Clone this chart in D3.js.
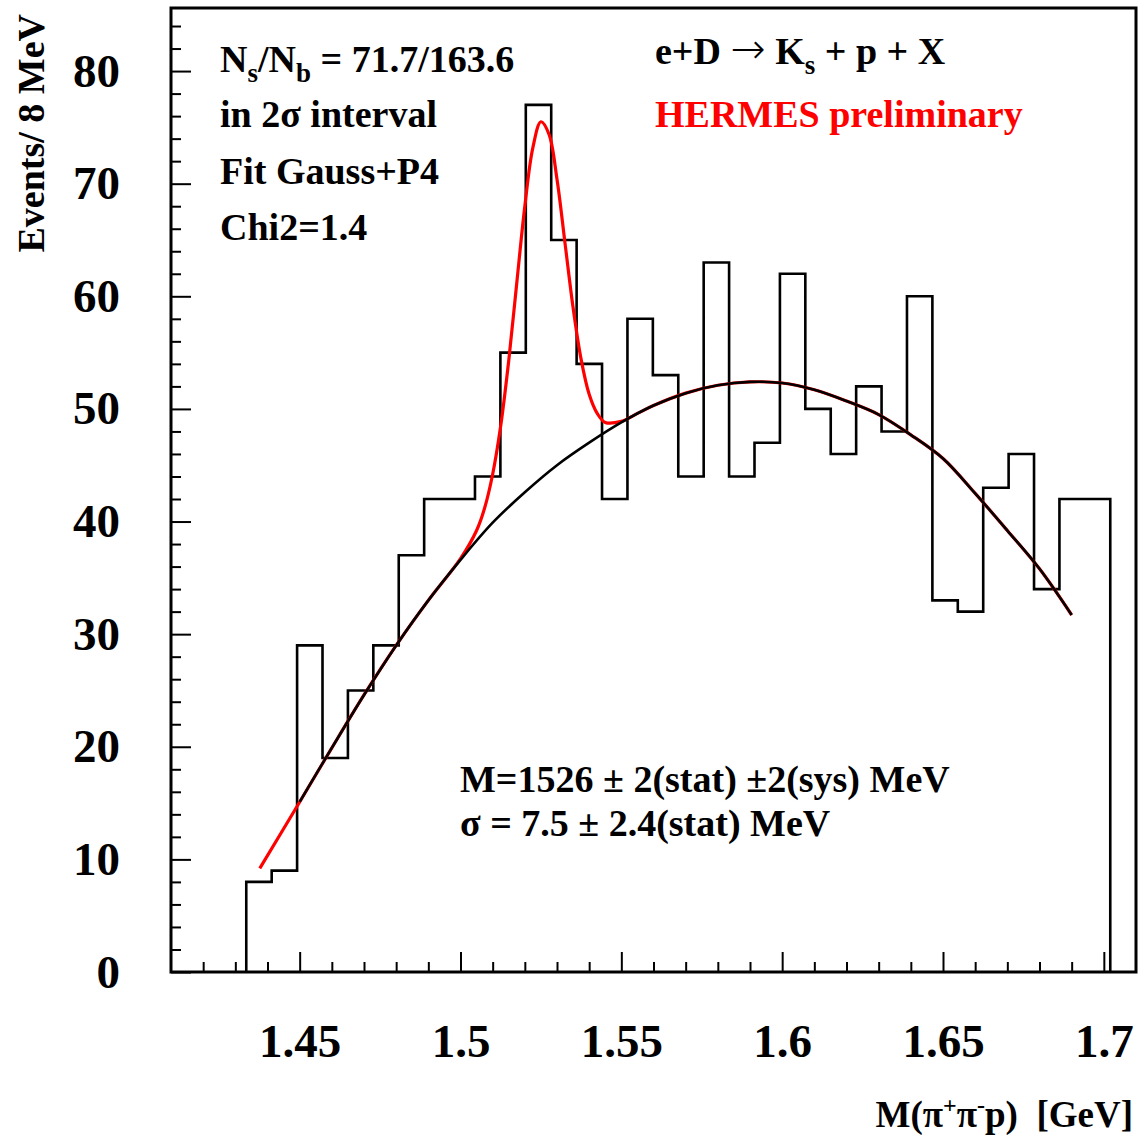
<!DOCTYPE html>
<html>
<head>
<meta charset="utf-8">
<script src="https://cdn.jsdelivr.net/npm/d3@7"></script>
<style>
  html, body { margin: 0; padding: 0; background: #fff; }
  svg text { font-family: "Liberation Serif", "Times New Roman", serif; font-weight: bold; white-space: pre; }
</style>
</head>
<body>
<svg id="chart" width="1144" height="1135"></svg>
<script>
// ---------------- data ----------------
const binStart = 1.4334;     // GeV, lower edge of first bin
const binWidth = 0.0079;     // GeV
const counts = [8, 9, 29, 19, 25, 29, 37, 42, 42, 44, 55, 77, 65, 54, 42, 58, 53, 44,
                63, 44, 47, 62, 50, 46, 52, 48, 60, 33, 32, 43, 46, 34, 42, 42];

// Fit: Gauss + P4 (total, red)
const fitX = [1.4376, 1.45, 1.46, 1.47, 1.48, 1.49, 1.50, 1.505, 1.5075, 1.51, 1.5125, 1.515,
              1.5175, 1.52, 1.5225, 1.525, 1.5275, 1.53, 1.5325, 1.535, 1.5375, 1.54, 1.5425,
              1.545, 1.55, 1.555, 1.56, 1.57, 1.58, 1.59, 1.60, 1.61, 1.62, 1.63, 1.64, 1.65,
              1.66, 1.67, 1.68, 1.69];
const fitY = [9.2, 15.1, 19.9, 24.6, 29.0, 33.0, 36.7, 39.2, 41.2, 44.2, 48.5, 54.3,
              61.2, 68.0, 73.2, 75.5, 74.4, 70.4, 64.7, 59.0, 54.4, 51.3, 49.6,
              48.8, 48.9, 49.6, 50.3, 51.4, 52.1, 52.4, 52.3, 51.7, 50.7, 49.5, 47.7, 45.6,
              42.5, 39.2, 35.8, 31.7];

// Background P4 (black)
const bgX = [1.45, 1.46, 1.47, 1.48, 1.49, 1.50, 1.51, 1.52, 1.53, 1.54, 1.55, 1.56, 1.57,
             1.58, 1.59, 1.60, 1.61, 1.62, 1.63, 1.64, 1.65, 1.66, 1.67, 1.68, 1.69];
const bgY = [15.1, 19.9, 24.6, 29.0, 33.0, 36.6, 39.9, 42.6, 45.0, 47.0, 48.8, 50.3, 51.4,
             52.1, 52.4, 52.3, 51.7, 50.7, 49.5, 47.7, 45.6, 42.5, 39.2, 35.8, 31.7];

const xMajorTicks = [1.45, 1.5, 1.55, 1.6, 1.65, 1.7];
const xTickLabels = ["1.45", "1.5", "1.55", "1.6", "1.65", "1.7"];
const yMajorTicks = [0, 10, 20, 30, 40, 50, 60, 70, 80];
const yTickLabels = ["0", "10", "20", "30", "40", "50", "60", "70", "80"];

// ---------------- layout ----------------
const L = 171, R = 1136, T = 8, B = 972;
const svg = d3.select("#chart");

const x = d3.scaleLinear().domain([1.41, 1.71]).range([L, R]);
const y = d3.scaleLinear().domain([0, 85.6]).range([B, T]);

// minor ticks
const xMinor = d3.range(1.42, 1.705, 0.01).map(v => +v.toFixed(2)).filter(v => !xMajorTicks.some(m => Math.abs(m - v) < 1e-6));
const yMinor = d3.range(2, 85, 2).filter(v => v % 10 !== 0);

// x axis minor
svg.append("g").attr("transform", `translate(0,${B})`)
  .call(d3.axisBottom(x).tickValues(xMinor).tickSize(-10).tickFormat(""))
  .call(g => g.select(".domain").remove())
  .call(g => g.selectAll("line").attr("stroke", "#000").attr("stroke-width", 2));
// x axis major
svg.append("g").attr("transform", `translate(0,${B})`)
  .call(d3.axisBottom(x).tickValues(xMajorTicks).tickSize(-20).tickPadding(52)
        .tickFormat((d, i) => xTickLabels[i]))
  .call(g => g.select(".domain").remove())
  .call(g => g.selectAll("line").attr("stroke", "#000").attr("stroke-width", 2))
  .call(g => g.selectAll("text").attr("font-size", 47).attr("fill", "#000")
        .attr("font-family", "Liberation Serif").attr("font-weight", "bold"));

// y axis minor
svg.append("g").attr("transform", `translate(${L},0)`)
  .call(d3.axisLeft(y).tickValues(yMinor).tickSize(-10).tickFormat(""))
  .call(g => g.select(".domain").remove())
  .call(g => g.selectAll("line").attr("stroke", "#000").attr("stroke-width", 2));
// y axis major
svg.append("g").attr("transform", `translate(${L},0)`)
  .call(d3.axisLeft(y).tickValues(yMajorTicks).tickSize(-20).tickPadding(51)
        .tickFormat((d, i) => yTickLabels[i]))
  .call(g => g.select(".domain").remove())
  .call(g => g.selectAll("line").attr("stroke", "#000").attr("stroke-width", 2))
  .call(g => g.selectAll("text").attr("font-size", 47).attr("fill", "#000")
        .attr("font-family", "Liberation Serif").attr("font-weight", "bold"));

// histogram step path
const edges = counts.map((c, i) => binStart + i * binWidth);
let d = `M${x(edges[0])},${y(0)}`;
counts.forEach((c, i) => {
  d += `L${x(edges[i])},${y(c)}L${x(edges[i] + binWidth)},${y(c)}`;
});
d += `L${x(edges[counts.length - 1] + binWidth)},${y(0)}`;
svg.append("path").attr("d", d).attr("fill", "none").attr("stroke", "#000")
  .attr("stroke-width", 2.6).attr("stroke-linejoin", "miter");

// fit curves
const line = d3.line().x(p => x(p[0])).y(p => y(p[1])).curve(d3.curveCatmullRom.alpha(0.5));
svg.append("path").attr("d", line(fitX.map((v, i) => [v, fitY[i]])))
  .attr("fill", "none").attr("stroke", "#ff0000").attr("stroke-width", 3.2);
svg.append("path").attr("d", line(bgX.map((v, i) => [v, bgY[i]])))
  .attr("fill", "none").attr("stroke", "#000").attr("stroke-width", 2.6);

// frame
svg.append("rect").attr("x", L).attr("y", T).attr("width", R - L).attr("height", B - T)
  .attr("fill", "none").attr("stroke", "#000").attr("stroke-width", 3);

// ---------------- texts ----------------
function txt(xp, yp, size, color) {
  return svg.append("text").attr("x", xp).attr("y", yp).attr("font-size", size).attr("fill", color || "#000");
}
// Ns/Nb
{
  const t = txt(220, 72, 38);
  t.append("tspan").text("N");
  t.append("tspan").attr("font-size", 27).attr("dy", 10).text("s");
  t.append("tspan").attr("dy", -10).text("/N");
  t.append("tspan").attr("font-size", 27).attr("dy", 10).text("b");
  t.append("tspan").attr("dy", -10).text(" = 71.7/163.6");
}
txt(220, 127, 38).text("in 2σ interval");
txt(220, 184, 38).text("Fit Gauss+P4");
txt(220, 240, 38).text("Chi2=1.4");
{
  const t = txt(655, 64, 38);
  t.append("tspan").text("e+D ");
  t.append("tspan").attr("font-family", "DejaVu Sans").attr("font-weight", 200)
    .attr("font-size", 42).attr("dy", -1).text("→");
  t.append("tspan").attr("dy", 1).text(" K");
  t.append("tspan").attr("font-size", 27).attr("dy", 10).text("s");
  t.append("tspan").attr("dy", -10).text(" + p + X");
}
txt(655, 127, 38, "#ff0000").text("HERMES preliminary");
txt(460, 792, 38).text("M=1526 ± 2(stat) ±2(sys) MeV");
txt(460, 836, 38).text("σ = 7.5 ± 2.4(stat) MeV");

// x axis title
{
  const t = txt(1133, 1127, 37).attr("text-anchor", "end");
  t.append("tspan").text("M(π");
  t.append("tspan").attr("font-size", 24).attr("dy", -14).text("+");
  t.append("tspan").attr("dy", 14).text("π");
  t.append("tspan").attr("font-size", 24).attr("dy", -14).text("-");
  t.append("tspan").attr("dy", 14).text("p)  [GeV]");
}
// y axis title
svg.append("text").attr("transform", "translate(44,14) rotate(-90)")
  .attr("text-anchor", "end").attr("font-size", 38).attr("fill", "#000")
  .text("Events/ 8 MeV");
</script>
</body>
</html>
